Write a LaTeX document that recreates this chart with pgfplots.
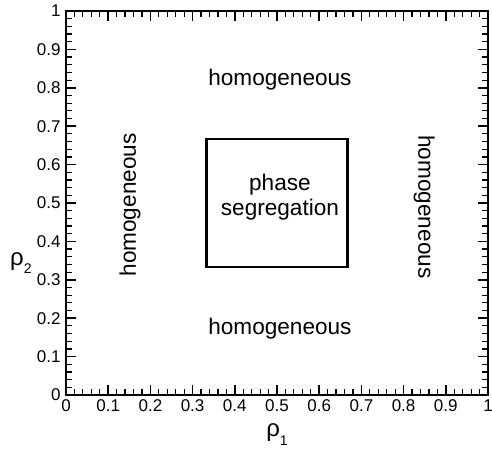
\documentclass[border=0pt]{standalone}
\usepackage{fontspec}
\setmainfont{Liberation Sans}
\usepackage{pgfplots}
\pgfplotsset{compat=1.18}
\newcommand{\sub}[1]{\raisebox{-0.35em}{\fontsize{14}{14}\selectfont #1}}
\begin{document}
\begin{tikzpicture}
\path[use as bounding box] (-66pt,-53pt) rectangle (426pt,395pt);
\begin{axis}[
  at={(0,0)}, anchor=south west,
  scale only axis, width=422pt, height=384pt,
  xmin=0, xmax=1, ymin=0, ymax=1,
  xtick={0,0.1,...,1}, ytick={0,0.1,...,1},
  xticklabels={0,0.1,0.2,0.3,0.4,0.5,0.6,0.7,0.8,0.9,1},
  yticklabels={0,0.1,0.2,0.3,0.4,0.5,0.6,0.7,0.8,0.9,1},
  minor tick num=4,
  tick align=inside,
  major tick length=10pt, minor tick length=6pt,
  every tick/.style={black, line width=1.6pt},
  minor tick style={line width=1.2pt},
  axis line style={line width=2pt},
  ticklabel style={font=\fontsize{17}{17}\selectfont},
  /pgf/number format/assume math mode=true,
  xticklabel style={yshift=-1pt},
  yticklabel style={xshift=-2pt},
  xlabel={ρ\sub{1}},
  ylabel={ρ\sub{2}},
  xlabel style={at={(axis description cs:0.5,-0.103)}, anchor=center, inner sep=0pt, font=\fontsize{24}{24}\selectfont},
  ylabel style={rotate=-90, at={(axis description cs:-0.107,0.344)}, anchor=center, inner sep=0pt, font=\fontsize{24}{24}\selectfont},
  clip=false,
]
\addplot[black, line width=2.4pt, mark=none] coordinates {(0.3333,0.3333) (0.6667,0.3333) (0.6667,0.6667) (0.3333,0.6667) (0.3333,0.3333)} -- cycle;
\node[font=\fontsize{22.6}{22.6}\selectfont] at (axis cs:0.507,0.82) {homogeneous};
\node[font=\fontsize{22.6}{22.6}\selectfont] at (axis cs:0.507,0.174) {homogeneous};
\node[font=\fontsize{22.6}{22.6}\selectfont, rotate=90] at (axis cs:0.152,0.495) {homogeneous};
\node[font=\fontsize{22.6}{22.6}\selectfont, rotate=-90] at (axis cs:0.849,0.49) {homogeneous};
\node[font=\fontsize{22.6}{25}\selectfont, align=center] at (axis cs:0.507,0.516) {phase\\segregation};
\end{axis}
\end{tikzpicture}
\end{document}
